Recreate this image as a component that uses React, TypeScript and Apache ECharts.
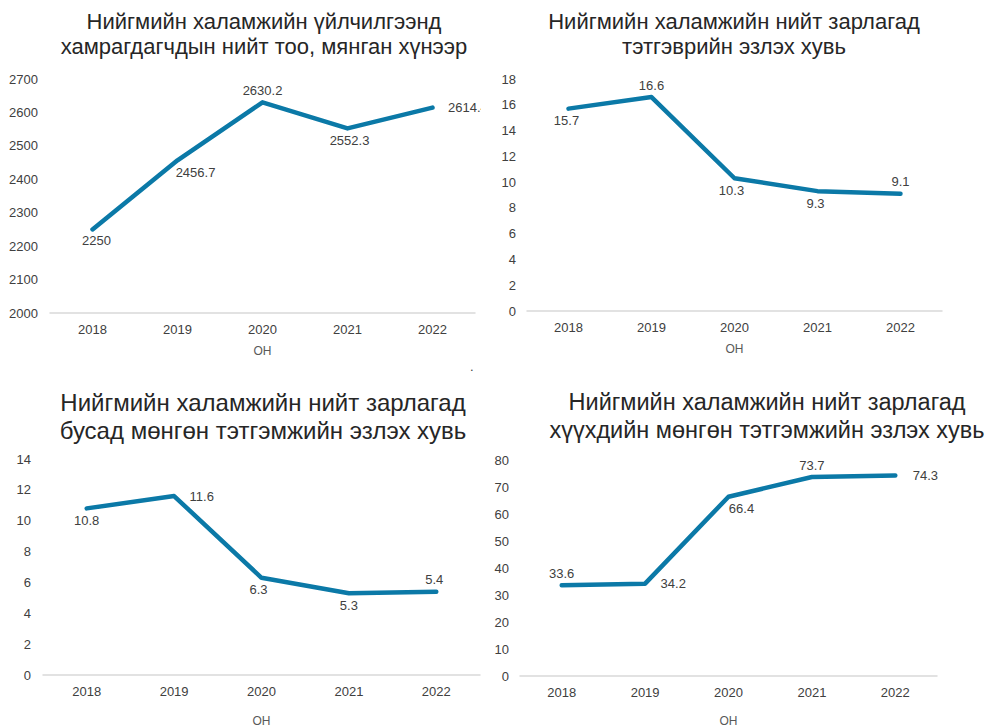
import React, { useEffect, useRef } from "react";
import * as echarts from "echarts";

const years = ["2018", "2019", "2020", "2021", "2022"];
const xName = "ОН";

const beneficiaries = [2250, 2456.7, 2630.2, 2552.3, 2614.4];
const pensionShare = [15.7, 16.6, 10.3, 9.3, 9.1];
const otherShare = [10.8, 11.6, 6.3, 5.3, 5.4];
const childShare = [33.6, 34.2, 66.4, 73.7, 74.3];

const titleTL = "Нийгмийн халамжийн үйлчилгээнд\nхамрагдагчдын нийт тоо, мянган хүнээр";
const titleTR = "Нийгмийн халамжийн нийт зарлагад\nтэтгэврийн эзлэх хувь";
const titleBL = "Нийгмийн халамжийн нийт зарлагад\nбусад мөнгөн тэтгэмжийн эзлэх хувь";
const titleBR = "Нийгмийн халамжийн нийт зарлагад\nхүүхдийн мөнгөн тэтгэмжийн эзлэх хувь";

const FONT = "Liberation Sans, Arial, sans-serif";
const LINE = "#0B79A7";

type LabelSpec = { pos: string; off?: [number, number] };

type PanelCfg = {
  left: number; top: number; width: number; height: number;
  title: string; titleX: number; titleY: number; titleSize: number; titleLH: number;
  grid: { left: number; right: number; top: number; bottom: number };
  yMin: number; yMax: number; yInt: number;
  data: number[];
  labels: LabelSpec[];
  nameGap: number;
  xLabelMargin: number;
  yLabelMargin: number;
};

const fmt = (v: number) => (Number.isInteger(v) ? String(v) : v.toFixed(1));

function Panel({ cfg }: { cfg: PanelCfg }) {
  const ref = useRef<HTMLDivElement>(null);
  useEffect(() => {
    if (!ref.current) return;
    const chart = echarts.init(ref.current, undefined, { renderer: "svg" });
    chart.setOption({
      animation: false,
      textStyle: { fontFamily: FONT },
      graphic: [
        {
          type: "text",
          x: cfg.titleX,
          y: cfg.titleY,
          style: {
            text: cfg.title,
            fontFamily: FONT,
            fontSize: cfg.titleSize,
            lineHeight: cfg.titleLH,
            fill: "#262626",
            textAlign: "center",
            textVerticalAlign: "top",
          },
        },
      ],
      grid: { ...cfg.grid, containLabel: false, outerBoundsMode: "none" },
      xAxis: {
        type: "category",
        data: years,
        boundaryGap: true,
        name: xName,
        nameLocation: "middle",
        nameGap: cfg.nameGap,
        nameTextStyle: { color: "#595959", fontSize: 12, fontFamily: FONT, lineHeight: 12 },
        axisLine: { show: true, lineStyle: { color: "#D9D9D9", width: 1.5 } },
        axisTick: { show: false },
        axisLabel: { color: "#404040", fontSize: 13, margin: cfg.xLabelMargin, fontFamily: FONT },
        splitLine: { show: false },
      },
      yAxis: {
        type: "value",
        min: cfg.yMin,
        max: cfg.yMax,
        interval: cfg.yInt,
        axisLine: { show: false },
        axisTick: { show: false },
        splitLine: { show: false },
        axisLabel: {
          color: "#404040",
          fontSize: 13,
          margin: cfg.yLabelMargin,
          fontFamily: FONT,
          formatter: (v: number) => String(v),
        },
      },
      series: [
        {
          type: "line",
          data: cfg.data.map((v, i) => ({
            value: v,
            label: {
              position: cfg.labels[i].pos,
              offset: cfg.labels[i].off || [0, 0],
            },
          })),
          symbol: "circle",
          symbolSize: 1,
          showSymbol: true,
          itemStyle: { color: LINE },
          lineStyle: { color: LINE, width: 4.5, cap: "round", join: "round" },
          label: {
            show: true,
            color: "#404040",
            fontSize: 13,
            fontFamily: FONT,
            distance: 5,
            formatter: (p: any) => fmt(p.value),
          },
        },
      ],
    });
    return () => chart.dispose();
  }, []);
  return (
    <div
      style={{ position: "absolute", left: cfg.left, top: cfg.top, width: cfg.width, height: cfg.height, overflow: "hidden" }}
    >
      <div ref={ref} style={{ width: cfg.width, height: cfg.height }} />
    </div>
  );
}

const panels: PanelCfg[] = [
  {
    left: 0, top: 0, width: 481, height: 365,
    title: titleTL, titleX: 264, titleY: 9, titleSize: 22, titleLH: 25,
    grid: { left: 50, right: 6, top: 79, bottom: 52 },
    yMin: 2000, yMax: 2700, yInt: 100,
    data: beneficiaries,
    labels: [
      { pos: "bottom", off: [4, -1] },
      { pos: "bottom", off: [18, 0] },
      { pos: "top" },
      { pos: "bottom", off: [2, 0] },
      { pos: "right", off: [10, 0] },
    ],
    nameGap: 31.5, xLabelMargin: 10, yLabelMargin: 12,
  },
  {
    left: 490, top: 0, width: 497, height: 365,
    title: titleTR, titleX: 244, titleY: 9, titleSize: 22, titleLH: 25,
    grid: { left: 37, right: 45, top: 79, bottom: 54 },
    yMin: 0, yMax: 18, yInt: 2,
    data: pensionShare,
    labels: [
      { pos: "bottom", off: [-2, 0] },
      { pos: "top" },
      { pos: "bottom", off: [-3, 0] },
      { pos: "bottom", off: [-2, 0] },
      { pos: "top" },
    ],
    nameGap: 32, xLabelMargin: 10, yLabelMargin: 11,
  },
  {
    left: 0, top: 380, width: 481, height: 347,
    title: titleBL, titleX: 263, titleY: 8, titleSize: 24, titleLH: 28,
    grid: { left: 43, right: 1, top: 79, bottom: 52 },
    yMin: 0, yMax: 14, yInt: 2,
    data: otherShare,
    labels: [
      { pos: "bottom" },
      { pos: "right", off: [10, 0] },
      { pos: "bottom", off: [-3, 0] },
      { pos: "bottom" },
      { pos: "top", off: [-2, 0] },
    ],
    nameGap: 39.5, xLabelMargin: 10, yLabelMargin: 12,
  },
  {
    left: 490, top: 380, width: 497, height: 347,
    title: titleBR, titleX: 277, titleY: 8, titleSize: 23.5, titleLH: 28,
    grid: { left: 30, right: 50, top: 80, bottom: 51 },
    yMin: 0, yMax: 80, yInt: 10,
    data: childShare,
    labels: [
      { pos: "top" },
      { pos: "right", off: [10, 0] },
      { pos: "bottom", off: [13, 0] },
      { pos: "top" },
      { pos: "right", off: [12, 0] },
    ],
    nameGap: 38.5, xLabelMargin: 10, yLabelMargin: 11,
  },
];

export default function App() {
  useEffect(() => {
    document.body.style.margin = "0";
  }, []);
  return (
    <div style={{ position: "relative", width: 987, height: 727, background: "#fff", overflow: "hidden" }}>
      {panels.map((p, i) => (
        <Panel key={i} cfg={p} />
      ))}
      <span
        style={{ position: "absolute", left: 470, top: 360, fontFamily: FONT, fontSize: 13, color: "#404040", lineHeight: "13px" }}
      >
        .
      </span>
    </div>
  );
}
